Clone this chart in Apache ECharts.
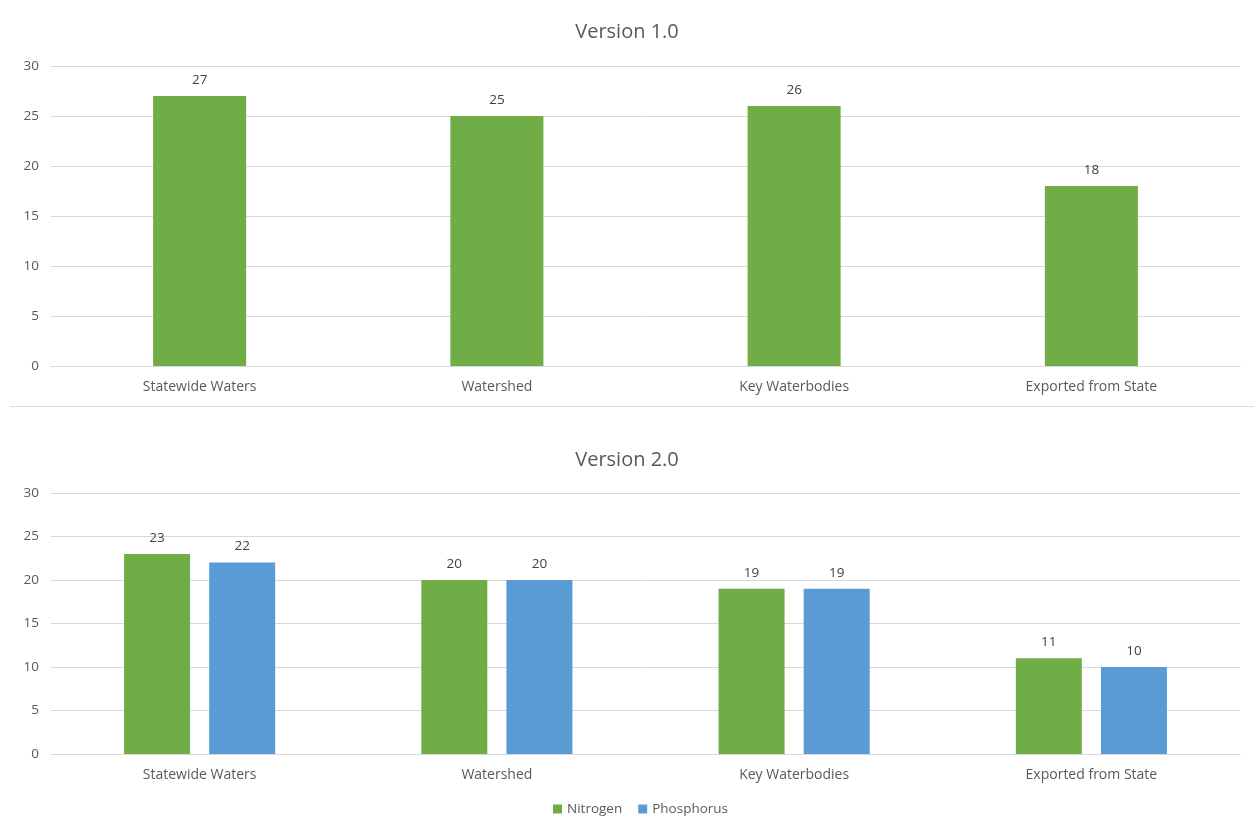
<!DOCTYPE html>
<html><head><meta charset="utf-8">
<script src="https://cdn.jsdelivr.net/npm/echarts@6/dist/echarts.min.js"></script>
<style>html,body{margin:0;padding:0;background:#fff}#c{width:1254px;height:819px}</style>
</head><body><div id="c"></div>
<script>
const categories = ['Statewide Waters', 'Watershed', 'Key Waterbodies', 'Exported from State'];
const v1Nitrogen = [27, 25, 26, 18];
const v2Nitrogen = [23, 20, 19, 11];
const v2Phosphorus = [22, 20, 19, 10];
const yTicks = [0, 5, 10, 15, 20, 25, 30];

const FONT = '"Open Sans", "Liberation Sans", sans-serif';
const TXT = '#595959';
const GREEN = '#70AD47', BLUE = '#5B9BD5';

const chart = echarts.init(document.getElementById('c'), null, {renderer: 'canvas'});
const xAxisBase = (gi) => ({
  type: 'category', gridIndex: gi, data: categories,
  axisLine: {lineStyle: {color: '#d9d9d9'}}, axisTick: {show: false},
  axisLabel: {color: TXT, fontFamily: FONT, fontSize: 14, margin: 14}
});
const yAxisBase = (gi) => ({
  type: 'value', gridIndex: gi, min: yTicks[0], max: yTicks[yTicks.length - 1], interval: 5,
  axisLine: {show: false}, axisTick: {show: false},
  splitLine: {lineStyle: {color: '#d9d9d9'}},
  axisLabel: {color: TXT, fontFamily: FONT, fontSize: 13.5, margin: 12}
});
const lbl = {show: true, position: 'top', distance: 9, color: '#404040', fontFamily: FONT, fontSize: 13.5};

chart.setOption({
  animation: false,
  title: [
    {text: 'Version 1.0', left: 'center', top: 17, textStyle: {color: TXT, fontFamily: FONT, fontSize: 20, fontWeight: 'normal'}},
    {text: 'Version 2.0', left: 'center', top: 445, textStyle: {color: TXT, fontFamily: FONT, fontSize: 20, fontWeight: 'normal'}}
  ],
  legend: {
    data: ['Nitrogen', 'Phosphorus'], bottom: -2, left: 548,
    itemWidth: 9, itemHeight: 9, itemGap: 16, icon: 'rect',
    textStyle: {color: TXT, fontFamily: FONT, fontSize: 13.5}
  },
  graphic: [{type: 'line', shape: {x1: 10, y1: 406.5, x2: 1254, y2: 406.5}, style: {stroke: '#d9d9d9', lineWidth: 1}}],
  grid: [
    {left: 51, right: 14, top: 66, height: 300},
    {left: 51, right: 14, top: 493, height: 261}
  ],
  xAxis: [xAxisBase(0), xAxisBase(1)],
  yAxis: [yAxisBase(0), yAxisBase(1)],
  series: [
    {name: 'Nitrogen v1', type: 'bar', xAxisIndex: 0, yAxisIndex: 0, data: v1Nitrogen, barWidth: '31.3%', itemStyle: {color: GREEN}, label: lbl},
    {name: 'Nitrogen', type: 'bar', xAxisIndex: 1, yAxisIndex: 1, data: v2Nitrogen, barWidth: '22.2%', barGap: '29%', itemStyle: {color: GREEN}, label: lbl},
    {name: 'Phosphorus', type: 'bar', xAxisIndex: 1, yAxisIndex: 1, data: v2Phosphorus, barWidth: '22.2%', barGap: '29%', itemStyle: {color: BLUE}, label: lbl}
  ]
});
</script></body></html>
